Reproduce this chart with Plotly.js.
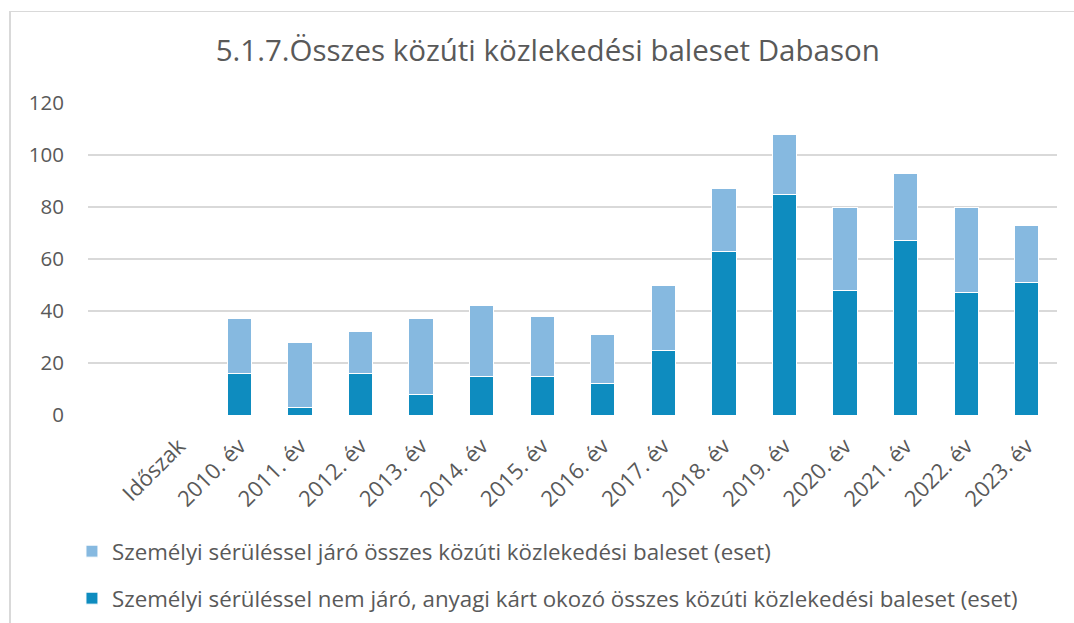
<!DOCTYPE html>
<html>
<head>
<meta charset="utf-8">
<script src="https://cdn.plot.ly/plotly-3.0.1.min.js"></script>
<style>
  html, body { margin: 0; padding: 0; background: #fff; overflow: hidden; }
  #chart { position: absolute; left: 0; top: 0; width: 1074px; height: 623px; }
  #frame { position: absolute; left: 9px; top: 11px; width: 3000px; height: 3000px;
           border-left: 2px solid #d9d9d9; border-top: 1.5px solid #d9d9d9; pointer-events: none; }
</style>
</head>
<body>
<div id="chart"></div>
<div id="frame"></div>
<script>
const categories = [" ", "Időszak", "2010. év", "2011. év", "2012. év", "2013. év", "2014. év", "2015. év",
  "2016. év", "2017. év", "2018. év", "2019. év", "2020. év", "2021. év", "2022. év", "2023. év"];
// Személyi sérüléssel nem járó, anyagi kárt okozó (dark, bottom)
const anyagiKar = [null, null, 16, 3, 16, 8, 15, 15, 12, 25, 63, 85, 48, 67, 47, 51];
// Személyi sérüléssel járó (light, top)
const szemelyiSerules = [null, null, 21, 25, 16, 29, 27, 23, 19, 25, 24, 23, 32, 26, 33, 22];
const yTicks = [0, 20, 40, 60, 80, 100, 120];

const nameLight = "Személyi sérüléssel járó összes közúti közlekedési baleset (eset)";
const nameDark = "Személyi sérüléssel nem járó, anyagi kárt okozó összes közúti közlekedési baleset (eset)";

const traces = [
  { type: "bar", x: categories, y: anyagiKar, name: nameDark, legendgroup: "a", legendrank: 2,
    marker: { color: "#0E8CBF", line: { color: "#ffffff", width: 1 } }, hoverinfo: "y" },
  { type: "bar", x: categories, y: szemelyiSerules, name: nameLight, legendgroup: "b", legendrank: 1,
    marker: { color: "#86B9E0", line: { color: "#ffffff", width: 1 } }, hoverinfo: "y" }
];

const FONT = "'Open Sans', Roboto, sans-serif";
const layout = {
  width: 1074, height: 623,
  margin: { l: 88, r: 17, t: 103, b: 208, autoexpand: false },
  paper_bgcolor: "#ffffff", plot_bgcolor: "#ffffff",
  font: { family: FONT, color: "#595959", size: 20 },
  title: { text: "5.1.7.Összes közúti közlekedési baleset Dabason",
    font: { size: 29.5, color: "#595959", family: FONT },
    x: 0.51, xanchor: "center", y: 0.918, yanchor: "middle" },
  barmode: "stack",
  bargap: 0.6,
  showlegend: true,
  legend: { orientation: "v", xref: "container", yref: "container",
    x: 0.067, xanchor: "left", y: 0.149, yanchor: "top",
    traceorder: "grouped", tracegroupgap: 15,
    font: { size: 22.3, color: "#595959", family: FONT }, itemclick: false },
  xaxis: { type: "category", categoryorder: "array", categoryarray: categories,
    tickangle: -45, showgrid: false, showline: false, zeroline: false, ticks: "",
    automargin: false, ticklabelstandoff: 13,
    tickfont: { size: 22, color: "#595959", family: FONT }, fixedrange: true },
  yaxis: { range: [0, 120], tickvals: yTicks, showgrid: true, gridcolor: "#d9d9d9", gridwidth: 1.5,
    zeroline: false, showline: false, ticks: "", ticklen: 0, automargin: false, ticklabelstandoff: 23,
    tickfont: { size: 20.5, color: "#595959", family: FONT }, fixedrange: true }
};

Plotly.newPlot("chart", traces, layout, { displayModeBar: false, staticPlot: true });
</script>
</body>
</html>
